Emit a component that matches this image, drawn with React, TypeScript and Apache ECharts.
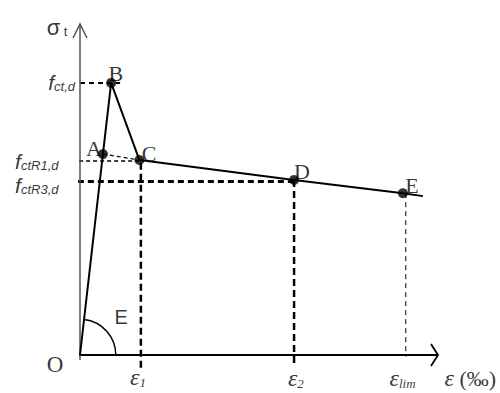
import React, { useEffect, useRef } from "react";
import * as echarts from "echarts";

// ---- data (strain in arbitrary ‰ units, stress in arbitrary units) ----
const pointNames = ["A", "B", "C", "D", "E"];
const strainValues = [0.64, 0.87, 1.66, 5.98, 9.02];
const stressValues = [6.07, 8.22, 5.89, 5.29, 4.89];
const tailPoint = [9.58, 4.8];
const strainTicks = [1.7, 5.98, 9.1]; // ε1, ε2, εlim
const stressLevels = [8.22, 5.86, 5.24]; // fct,d, fctR1,d, fctR3,d
const axisMax = [10, 10];
const arcRadius = 1.0;

const SERIF = "'Liberation Serif', 'DejaVu Serif', serif";
const SANS = "'Liberation Sans', Arial, sans-serif";

function seg(data: number[][], color: string, width: number, type: any, z = 2) {
  return {
    type: "line",
    data,
    symbol: "none",
    showSymbol: false,
    clip: false,
    silent: true,
    z,
    lineStyle: { color, width, type, cap: "butt" },
  };
}

export default function App() {
  const ref = useRef<HTMLDivElement>(null);
  useEffect(() => {
    document.body.style.margin = "0";
    const chart = echarts.init(ref.current!, null, { renderer: "svg" });
    const curve = [[0, 0], ...strainValues.map((x, i) => [x, stressValues[i]]), tailPoint];
    const [e1, e2, eLim] = strainTicks;
    const [fct, fR1, fR3] = stressLevels;

    const fRich = {
      f: { fontFamily: SANS, fontStyle: "italic", fontSize: 21, lineHeight: 24, verticalAlign: "bottom", color: "#000" },
      s: { fontFamily: SANS, fontStyle: "italic", fontSize: 13, lineHeight: 15, verticalAlign: "bottom", color: "#000" },
    };
    const epsRich = {
      e: { fontFamily: SERIF, fontStyle: "italic", fontSize: 24, lineHeight: 24, verticalAlign: "bottom", color: "#000" },
      s: { fontFamily: SERIF, fontStyle: "italic", fontSize: 13, lineHeight: 15, verticalAlign: "bottom", color: "#000" },
      p: { fontFamily: SERIF, fontSize: 22, lineHeight: 24, verticalAlign: "bottom", color: "#000" },
    };

    const textItems: any[] = [
      ...pointNames.map((n, i) => {
        const off = [
          [-0.25, 0.18],
          [0.13, 0.27],
          [0.27, 0.21],
          [0.22, 0.24],
          [0.25, 0.22],
        ][i];
        return {
          value: [strainValues[i] + off[0], stressValues[i] + off[1]],
          label: { formatter: n, fontFamily: SERIF, fontSize: 22 },
        };
      }),
      { value: [-0.7, -0.3], label: { formatter: "O", fontFamily: SERIF, fontSize: 23 } },
      { value: [1.15, 1.15], label: { formatter: "E", fontFamily: SANS, fontSize: 20 } },
      {
        value: [-0.35, 9.9],
        label: {
          formatter: "{g|σ}{t| t}",
          align: "right",
          rich: {
            g: { fontFamily: SANS, fontSize: 22, lineHeight: 22, verticalAlign: "bottom", color: "#000" },
            t: { fontFamily: SANS, fontSize: 13, lineHeight: 14, verticalAlign: "bottom", color: "#000" },
          },
        },
      },
      { value: [-0.14, fct + 0.05], label: { formatter: "{f|f}{s|ct,d}", align: "right", rich: fRich } },
      { value: [-0.6, fR1 + 0.02], label: { formatter: "{f|f}{s|ctR1,d}", align: "right", rich: fRich } },
      { value: [-0.6, fR3 - 0.08], label: { formatter: "{f|f}{s|ctR3,d}", align: "right", rich: fRich } },
      { value: [e1 - 0.08, -0.66], label: { formatter: "{e|ε}{s|1}", rich: epsRich } },
      { value: [e2 + 0.05, -0.69], label: { formatter: "{e|ε}{s|2}", rich: epsRich } },
      { value: [eLim - 0.09, -0.69], label: { formatter: "{e|ε}{s|lim}", rich: epsRich } },
      { value: [10.9, -0.69], label: { formatter: "{e|ε}{p| (‰)}", rich: epsRich } },
    ];

    chart.setOption({
      animation: false,
      grid: { left: 80, right: 62, top: 24, bottom: 38 },
      xAxis: { type: "value", min: 0, max: axisMax[0], show: false },
      yAxis: { type: "value", min: 0, max: axisMax[1], show: false },
      series: [
        // axes
        seg([[-0.2, 0], [axisMax[0], 0]], "#000", 2, "solid", 3),
        seg([[0, -0.15], [0, axisMax[1]]], "#555", 1.5, "solid", 3),
        // open arrow heads at the axis ends
        {
          type: "custom",
          silent: true,
          z: 3,
          clip: false,
          data: [[axisMax[0], 0, 0], [0, axisMax[1], 1]],
          renderItem: (params: any, api: any) => {
            const p = api.coord([api.value(0), api.value(1)]);
            const vertical = api.value(2) === 1;
            const pts = vertical
              ? [[p[0] - 7, p[1] + 14], [p[0], p[1]], [p[0] + 7, p[1] + 14]]
              : [[p[0] - 7, p[1] - 11], [p[0], p[1]], [p[0] - 7, p[1] + 11]];
            return {
              type: "polyline",
              shape: { points: pts },
              style: { stroke: vertical ? "#555" : "#000", fill: "none", lineWidth: vertical ? 1.5 : 1.8 },
            };
          },
        },
        // reference dashed lines
        seg([[0, fct], [1.12, fct]], "#000", 2, [5, 4]),
        seg([[-0.22, fR1], [strainValues[2], fR1]], "#000", 1.5, [4, 3]),
        seg([[strainValues[0], stressValues[0]], [strainValues[2], stressValues[2]]], "#000", 1.2, [4, 3]),
        seg([[-0.06, fR3], [strainValues[3], fR3]], "#000", 3, [6, 4]),
        seg([[e1, fR1 - 0.05], [e1, -0.4]], "#000", 2.5, [7, 4]),
        seg([[e2, stressValues[3]], [e2, -0.3]], "#000", 2.5, [7, 4]),
        seg([[eLim, stressValues[4]], [eLim, -0.05]], "#000", 1, [5, 4]),
        // constitutive curve
        seg(curve, "#000", 2, "solid", 4),
        // modulus arc
        {
          type: "custom",
          silent: true,
          z: 4,
          clip: false,
          data: [[0, 0]],
          renderItem: (params: any, api: any) => {
            const o = api.coord([0, 0]);
            const b = api.coord([strainValues[1], stressValues[1]]);
            const ang = Math.atan2(b[1] - o[1], b[0] - o[0]);
            const r = api.size([arcRadius, 0])[0];
            return {
              type: "arc",
              shape: { cx: o[0], cy: o[1], r, startAngle: ang, endAngle: 0, clockwise: true },
              style: { stroke: "#000", fill: "none", lineWidth: 1.5 },
            };
          },
        },
        // key points
        {
          type: "scatter",
          data: strainValues.map((x, i) => [x, stressValues[i]]),
          symbolSize: 10,
          itemStyle: { color: "#000" },
          z: 5,
          silent: true,
        },
        // texts
        {
          type: "scatter",
          clip: false,
          silent: true,
          symbolSize: 1,
          itemStyle: { color: "rgba(0,0,0,0)" },
          z: 6,
          label: { show: true, position: "inside", color: "#000" },
          data: textItems,
        },
      ],
    });
    return () => chart.dispose();
  }, []);
  return <div ref={ref} style={{ width: 500, height: 393 }} />;
}
